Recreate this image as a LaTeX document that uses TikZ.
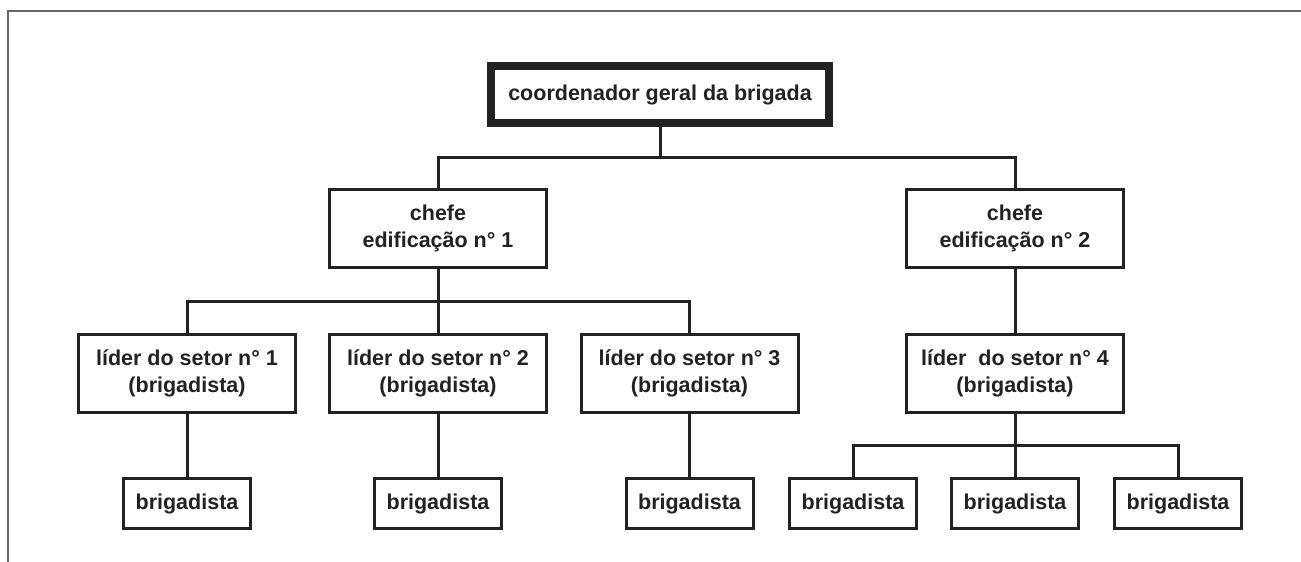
\documentclass[tikz,border=0pt]{standalone}
\usepackage{fontspec}
\setmainfont{Liberation Sans}
\definecolor{ink}{HTML}{222222}
\definecolor{framegray}{HTML}{666666}
\begin{document}
\begin{tikzpicture}[x=1pt,y=-1pt,
  every node/.style={font=\fontsize{21.5}{27}\selectfont\bfseries, text=ink, align=center, inner sep=0pt},
  boxbig/.style={draw=ink, line width=3pt, minimum width=217pt, minimum height=78pt},
  boxsmall/.style={draw=ink, line width=3pt, minimum width=127pt, minimum height=50pt},
  boxtop/.style={draw=ink, line width=8pt, minimum width=338pt, minimum height=57pt},
  link/.style={draw=ink, line width=3pt}]
\useasboundingbox (0,0) rectangle (1301,562);
\fill[white] (0,0) rectangle (1301,562);
\draw[framegray, line width=2pt] (8,562) -- (8,11) -- (1301,11);

\node[boxtop] (top) at (660,94.5) {coordenador geral da brigada};
\node[boxbig] (c1) at (438,228.5) {chefe\\edificação n° 1};
\node[boxbig] (c2) at (1015,228.5) {chefe\\edificação n° 2};
\node[boxbig] (l1) at (187,373.5) {líder do setor n° 1\\(brigadista)};
\node[boxbig] (l2) at (438,373.5) {líder do setor n° 2\\(brigadista)};
\node[boxbig] (l3) at (689.5,373.5) {líder do setor n° 3\\(brigadista)};
\node[boxbig] (l4) at (1015,373.5) {líder\ \ do setor n° 4\\(brigadista)};
\node[boxsmall] (b1) at (187,503.5) {brigadista};
\node[boxsmall] (b2) at (438,503.5) {brigadista};
\node[boxsmall] (b3) at (689.5,503.5) {brigadista};
\node[boxsmall] (b4) at (853,503.5) {brigadista};
\node[boxsmall] (b5) at (1015,503.5) {brigadista};
\node[boxsmall] (b6) at (1178,503.5) {brigadista};

\coordinate (j0) at (660,157);
\coordinate (j1) at (438,301);
\coordinate (j4) at (1015,445);

\draw[link] (top.south) -- (j0);
\draw[link] (c1.north) |- (j0) -| (c2.north);
\draw[link] (c1.south) -- (l2.north);
\draw[link] (l1.north) |- (j1) -| (l3.north);
\draw[link] (c2.south) -- (l4.north);
\draw[link] (l1.south) -- (b1.north);
\draw[link] (l2.south) -- (b2.north);
\draw[link] (l3.south) -- (b3.north);
\draw[link] (l4.south) -- (b5.north);
\draw[link] (b4.north) |- (j4) -| (b6.north);
\end{tikzpicture}
\end{document}
